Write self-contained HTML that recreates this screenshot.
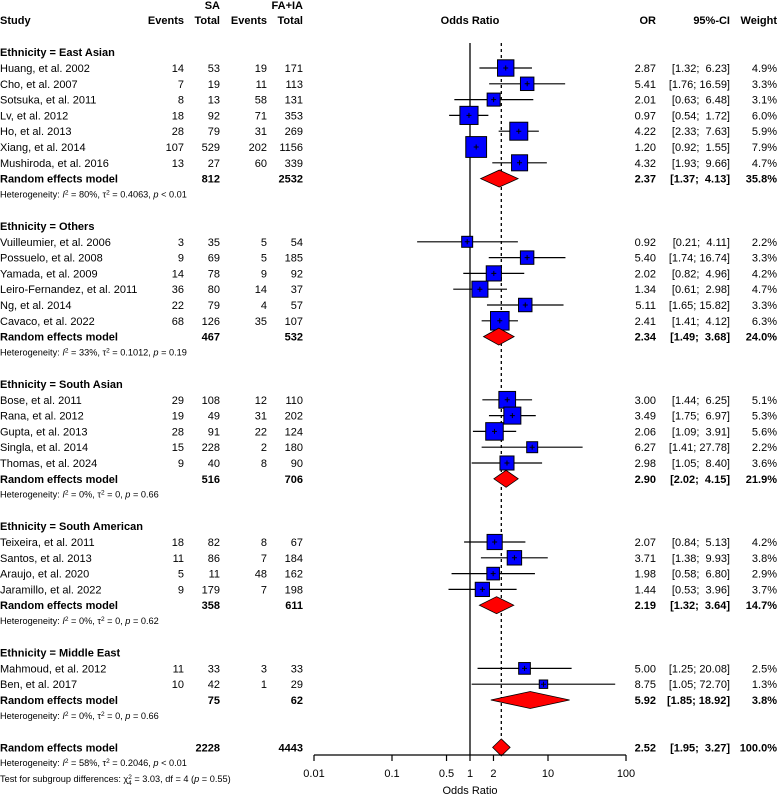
<!DOCTYPE html>
<html><head><meta charset="utf-8"><style>
html,body{margin:0;padding:0;background:#fff}
svg{display:block;font-family:"Liberation Sans",Arial,sans-serif}
text{font-size:11px;fill:#000;white-space:pre}
.b{font-weight:bold}
.h{font-size:9.2px}
.t{font-size:9.2px}
</style></head><body>
<svg id="plot" width="778" height="798" viewBox="0 0 778 798" xmlns="http://www.w3.org/2000/svg"></svg>
<script>
// ---- data ----
const groupNames=["East Asian","Others","South Asian","South American","Middle East"];
const studies=[
["Huang, et al. 2002","Cho, et al. 2007","Sotsuka, et al. 2011","Lv, et al. 2012","Ho, et al. 2013","Xiang, et al. 2014","Mushiroda, et al. 2016"],
["Vuilleumier, et al. 2006","Possuelo, et al. 2008","Yamada, et al. 2009","Leiro-Fernandez, et al. 2011","Ng, et al. 2014","Cavaco, et al. 2022"],
["Bose, et al. 2011","Rana, et al. 2012","Gupta, et al. 2013","Singla, et al. 2014","Thomas, et al. 2024"],
["Teixeira, et al. 2011","Santos, et al. 2013","Araujo, et al. 2020","Jaramillo, et al. 2022"],
["Mahmoud, et al. 2012","Ben, et al. 2017"]];
const evSA=[[14,7,8,18,28,107,13],[3,9,14,36,22,68],[29,19,28,15,9],[18,11,5,9],[11,10]];
const totSA=[[53,19,13,92,79,529,27],[35,69,78,80,79,126],[108,49,91,228,40],[82,86,11,179],[33,42]];
const evFA=[[19,11,58,71,31,202,60],[5,5,9,14,4,35],[12,31,22,2,8],[8,7,48,7],[3,1]];
const totFA=[[171,113,131,353,269,1156,339],[54,185,92,37,57,107],[110,202,124,180,90],[67,184,162,198],[33,29]];
const orVal=[[2.87,5.41,2.01,0.97,4.22,1.20,4.32],[0.92,5.40,2.02,1.34,5.11,2.41],[3.00,3.49,2.06,6.27,2.98],[2.07,3.71,1.98,1.44],[5.00,8.75]];
const ciLo=[[1.32,1.76,0.63,0.54,2.33,0.92,1.93],[0.21,1.74,0.82,0.61,1.65,1.41],[1.44,1.75,1.09,1.41,1.05],[0.84,1.38,0.58,0.53],[1.25,1.05]];
const ciHi=[[6.23,16.59,6.48,1.72,7.63,1.55,9.66],[4.11,16.74,4.96,2.98,15.82,4.12],[6.25,6.97,3.91,27.78,8.40],[5.13,9.93,6.80,3.96],[20.08,72.70]];
const weight=[[4.9,3.3,3.1,6.0,5.9,7.9,4.7],[2.2,3.3,4.2,4.7,3.3,6.3],[5.1,5.3,5.6,2.2,3.6],[4.2,3.8,2.9,3.7],[2.5,1.3]];
const reTotSA=[812,467,516,358,75];
const reTotFA=[2532,532,706,611,62];
const reOR=[2.37,2.34,2.90,2.19,5.92];
const reLo=[1.37,1.49,2.02,1.32,1.85];
const reHi=[4.13,3.68,4.15,3.64,18.92];
const reW=[35.8,24.0,21.9,14.7,3.8];
const hetI2=["80%","33%","0%","0%","0%"];
const hetTau=["0.4063","0.1012","0","0","0"];
const hetP=["< 0.01","= 0.19","= 0.66","= 0.62","= 0.66"];
const overall={totSA:2228,totFA:4443,or:2.52,lo:1.95,hi:3.27,w:"100.0%",i2:"58%",tau:"0.2046",p:"< 0.01"};
const axisTicks=[0.01,0.1,0.5,1,2,10,100];
const axisTickLabels=["0.01","0.1","0.5","1","2","10","100"];

// ---- scales ----
const X=v=>470+78*Math.log10(v);
const Y=n=>20.6+15.8*n;
const svg=document.getElementById('plot');
const NS="http://www.w3.org/2000/svg";
function el(tag,attrs,txt){const e=document.createElementNS(NS,tag);for(const k in attrs)e.setAttribute(k,attrs[k]);if(txt!==undefined)e.textContent=txt;svg.appendChild(e);return e;}
function txt(x,y,s,anchor,cls,name){const e=el('text',{x:x,y:y+4,'text-anchor':anchor||'start'},s);if(cls)e.setAttribute('class',cls);


return e;}
const f2=v=>v.toFixed(2);
function ciStr(lo,hi){let h=f2(hi);if(h.length<5)h=" "+h;return "["+f2(lo)+"; "+h+"]";}
function het(y,i2,tau,p){const t=el('text',{x:0,y:y+3,'class':'h'});


t.innerHTML='Heterogeneity: <tspan font-style="italic">I</tspan><tspan dy="-3" font-size="6.5">2</tspan><tspan dy="3"> = '+i2+', τ</tspan><tspan dy="-3" font-size="6.5">2</tspan><tspan dy="3"> = '+tau+', </tspan><tspan font-style="italic">p</tspan> '+p;}

// headers
txt(220,5,"SA","end","b","sa-header");
txt(303,5,"FA+IA","end","b","fa-ia-header");
txt(0,20,"Study","start","b","study-header");
txt(184,20,"Events","end","b","sa-events-header");
txt(220,20,"Total","end","b","sa-total-header");
txt(267,20,"Events","end","b","fa-events-header");
txt(303,20,"Total","end","b","fa-total-header");
txt(470,20,"Odds Ratio","middle","b","odds-ratio-header");
txt(656,20,"OR","end","b","or-header");
txt(730,20,"95%-CI","end","b","ci-header");
txt(777,20,"Weight","end","b","weight-header");

// reference lines
let l=el('line',{x1:X(1),x2:X(1),y1:43,y2:755,stroke:'#000','stroke-width':1.3});


l=el('line',{x1:X(overall.or),x2:X(overall.or),y1:43,y2:745,stroke:'#000','stroke-width':1.3,'stroke-dasharray':'3,3'});



function diamond(y,or,lo,hi,h,name){const p=el('polygon',{points:`${X(lo)},${y} ${X(or)},${y-h} ${X(hi)},${y} ${X(or)},${y+h}`,fill:'#f00',stroke:'#000','stroke-width':0.8});

}

let row=2;
for(let g=0;g<groupNames.length;g++){
  txt(0,Y(row),"Ethnicity = "+groupNames[g],"start","b","subgroup-header");row++;
  for(let i=0;i<studies[g].length;i++){
    const y=Y(row);
    txt(0,y,studies[g][i],"start",null,"study-name");
    txt(184,y,String(evSA[g][i]),"end",null,"sa-events");
    txt(220,y,String(totSA[g][i]),"end",null,"sa-total");
    txt(267,y,String(evFA[g][i]),"end",null,"fa-events");
    txt(303,y,String(totFA[g][i]),"end",null,"fa-total");
    txt(656,y,f2(orVal[g][i]),"end",null,"or-value");
    txt(730,y,ciStr(ciLo[g][i],ciHi[g][i]),"end",null,"ci-value");
    txt(777,y,weight[g][i].toFixed(1)+"%","end",null,"weight-value");
    const ln=el('line',{x1:X(ciLo[g][i]),x2:X(ciHi[g][i]),y1:y,y2:y,stroke:'#000','stroke-width':1.2});
    
    
    const s=7.4*Math.sqrt(weight[g][i]);const cx=X(orVal[g][i]);
    const r=el('rect',{x:cx-s/2,y:y-s/2,width:s,height:s,fill:'#00f',stroke:'#000','stroke-width':1});
    
    
    const c=el('path',{d:`M${cx-2.5},${y}H${cx+2.5}M${cx},${y-2.5}V${y+2.5}`,stroke:'#000','stroke-width':1});
    
    
    row++;
  }
  const y=Y(row);
  txt(0,y,"Random effects model","start","b","random-effects-label");
  txt(220,y,String(reTotSA[g]),"end","b","re-sa-total");
  txt(303,y,String(reTotFA[g]),"end","b","re-fa-total");
  txt(656,y,f2(reOR[g]),"end","b","re-or");
  txt(730,y,ciStr(reLo[g],reHi[g]),"end","b","re-ci");
  txt(777,y,reW[g].toFixed(1)+"%","end","b","re-weight");
  diamond(y,reOR[g],reLo[g],reHi[g],8.5,"subgroup-diamond");
  row++;
  het(Y(row),hetI2[g],hetTau[g],hetP[g]);row+=2;
}
// overall
let y=Y(row);
txt(0,y,"Random effects model","start","b","overall-label");
txt(220,y,String(overall.totSA),"end","b","overall-sa-total");
txt(303,y,String(overall.totFA),"end","b","overall-fa-total");
txt(656,y,f2(overall.or),"end","b","overall-or");
txt(730,y,ciStr(overall.lo,overall.hi),"end","b","overall-ci");
txt(777,y,overall.w,"end","b","overall-weight");
diamond(y,overall.or,overall.lo,overall.hi,8.5,"overall-diamond");
row++;
het(Y(row),overall.i2,overall.tau,overall.p);row++;
const t=el('text',{x:0,y:Y(row)+3,'class':'t'});


t.innerHTML='Test for subgroup differences: χ<tspan dy="-3" font-size="6.5">2</tspan><tspan dy="6" dx="-3.7" font-size="6.5">4</tspan><tspan dy="-3"> = 3.03, df = 4 (</tspan><tspan font-style="italic">p</tspan> = 0.55)';

// axis
l=el('line',{x1:X(0.01),x2:X(100),y1:755,y2:755,stroke:'#000','stroke-width':1.2});


axisTicks.forEach((v,i)=>{
  const tk=el('line',{x1:X(v),x2:X(v),y1:755,y2:761,stroke:'#000','stroke-width':1.2});
  
  
  txt(X(v),773,axisTickLabels[i],"middle",null,"x-tick-label");
});
const at=txt(470,790,"Odds Ratio","middle",null,"x-axis-title");
</script>
</body></html>
